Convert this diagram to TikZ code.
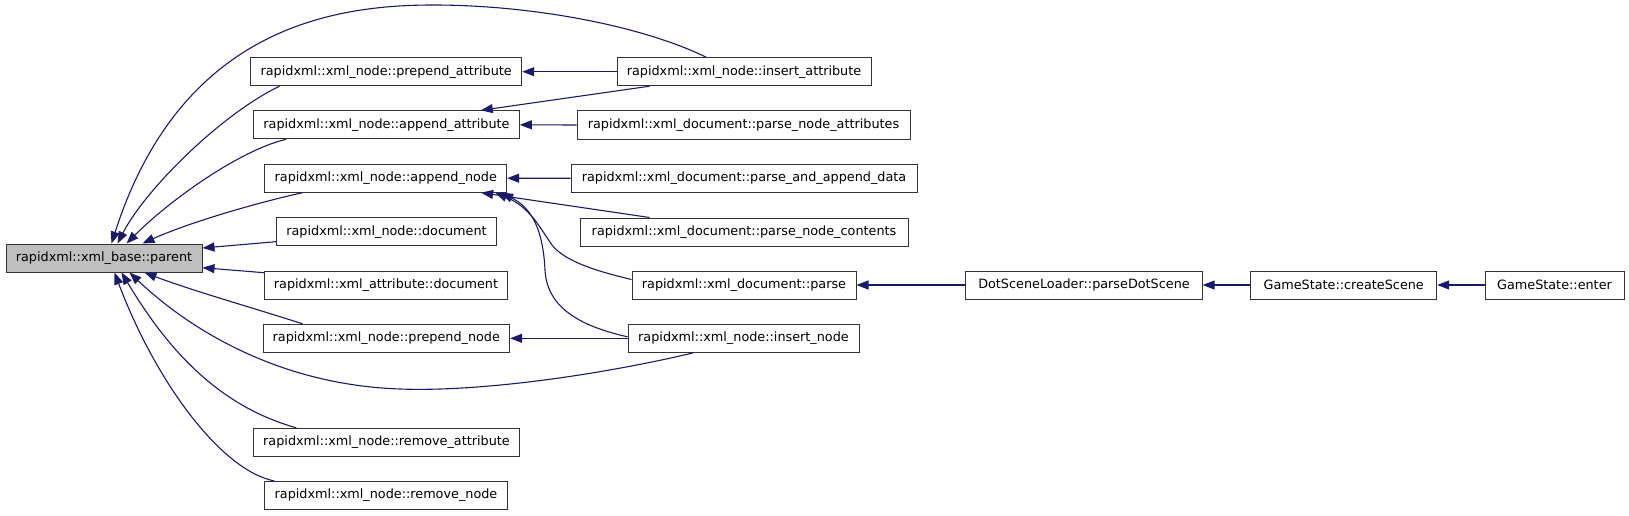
\documentclass[tikz,border=0pt]{standalone}
\usepackage{fontspec}
\setmainfont{DejaVu Sans}
\usetikzlibrary{arrows.meta}
\definecolor{edgeblue}{HTML}{191970}
\definecolor{hilite}{HTML}{BFBFBF}
\begin{document}
\begin{tikzpicture}[x=1pt,y=-1pt,
  box/.style={draw=black!80, line width=1pt, fill=white, rectangle,
    minimum height=28pt, inner sep=0pt, font=\fontsize{12.8}{14}\selectfont},
  hl/.style={box, fill=hilite},
  edge/.style={draw=edgeblue, line width=1.1pt, -{Triangle[length=12pt,width=9pt]}}]
\useasboundingbox (0,0) rectangle (1629,516);

% left column
\node[hl,  minimum width=196pt] (parent) at (104,258) {rapidxml::xml\_base::parent};
\node[box, minimum width=271pt] (prependattr) at (386.2,71.7) {rapidxml::xml\_node::prepend\_attribute};
\node[box, minimum width=265.6pt] (appendattr) at (386.5,124.8) {rapidxml::xml\_node::append\_attribute};
\node[box, minimum width=241.7pt] (appendnode) at (385.8,178.2) {rapidxml::xml\_node::append\_node};
\node[box, minimum width=220.3pt] (nodedoc) at (386.5,231.7) {rapidxml::xml\_node::document};
\node[box, minimum width=243pt] (attrdoc) at (386,285) {rapidxml::xml\_attribute::document};
\node[box, minimum width=246.6pt] (prependnode) at (386.3,338.3) {rapidxml::xml\_node::prepend\_node};
\node[box, minimum width=266.3pt] (removeattr) at (386.5,442.3) {rapidxml::xml\_node::remove\_attribute};
\node[box, minimum width=243pt] (removenode) at (386,495.5) {rapidxml::xml\_node::remove\_node};

% right column
\node[box, minimum width=254pt] (insertattr) at (744,71.7) {rapidxml::xml\_node::insert\_attribute};
\node[box, minimum width=333pt] (parseattrs) at (743.5,125) {rapidxml::xml\_document::parse\_node\_attributes};
\node[box, minimum width=346pt] (parseappend) at (744,178.3) {rapidxml::xml\_document::parse\_and\_append\_data};
\node[box, minimum width=328pt] (parsecontents) at (744,232) {rapidxml::xml\_document::parse\_node\_contents};
\node[box, minimum width=224pt] (parse) at (744,285) {rapidxml::xml\_document::parse};
\node[box, minimum width=231pt] (insertnode) at (743.5,338.3) {rapidxml::xml\_node::insert\_node};
\node[box, minimum width=236.3pt] (dotscene) at (1084,285) {DotSceneLoader::parseDotScene};
\node[box, minimum width=186pt] (createscene) at (1343.7,285) {GameState::createScene};
\node[box, minimum width=139pt] (enter) at (1554.5,285) {GameState::enter};

% edges into parent (top)
\draw[edge] ([xshift=89.7pt]insertattr.north west) .. controls (640,25) and (530,5) .. (433,5)
   .. controls (330,5) and (180,30) .. ([xshift=106pt]parent.north west);
\draw[edge] ([xshift=29.3pt]prependattr.south west) .. controls (220,115) and (145,190) .. ([xshift=112pt]parent.north west);
\draw[edge] ([xshift=33pt]appendattr.south west) .. controls (240,150) and (170,200) .. ([xshift=121pt]parent.north west);
\draw[edge] ([xshift=38pt]appendnode.south west) .. controls (260,202) and (190,222) .. ([xshift=137pt]parent.north west);
% edges into parent (side)
\draw[edge] ([yshift=-10pt]nodedoc.west) -- ([yshift=10pt]parent.east);
\draw[edge] ([yshift=12.3pt]attrdoc.west) -- ([yshift=-9.7pt]parent.east);
% edges into parent (bottom)
\draw[edge] ([xshift=40pt]prependnode.north west) .. controls (260,310) and (190,290) .. ([xshift=139pt]parent.south west);
\draw[edge] ([xshift=66pt]insertnode.south west) .. controls (600,375) and (480,392) .. (400,389)
   .. controls (280,385) and (190,330) .. ([xshift=124pt]parent.south west);
\draw[edge] ([xshift=43.4pt]removeattr.north west) .. controls (215,405) and (165,345) .. ([xshift=116pt]parent.south west);
\draw[edge] ([xshift=10.4pt]removenode.north west) .. controls (220,470) and (155,380) .. ([xshift=109pt]parent.south west);

% right-hand edges
\draw[edge] (insertattr.west) -- (prependattr.east);
\draw[edge] ([xshift=33pt]insertattr.south west) -- ([xshift=-39pt]appendattr.north east);
\draw[edge] (parseattrs.west) -- (appendattr.east);
\draw[edge] (parseappend.west) -- (appendnode.east);
\draw[edge] ([xshift=70pt]parsecontents.north west) -- ([xshift=-26pt]appendnode.south east);
\draw[edge] ([yshift=5.5pt]parse.west) .. controls (600,272) and (565,262) .. (552,245)
   .. controls (540,228) and (530,207) .. ([xshift=-12pt]appendnode.south east);
\draw[edge] ([yshift=1.5pt]insertnode.west) .. controls (575,325) and (547,305) .. (545,270)
   .. controls (543,230) and (532,208) .. ([xshift=-6pt]appendnode.south east);
\draw[edge] (insertnode.west) -- (prependnode.east);
\draw[edge] (dotscene.west) -- (parse.east);
\draw[edge] (createscene.west) -- (dotscene.east);
\draw[edge] (enter.west) -- (createscene.east);
\end{tikzpicture}
\end{document}
